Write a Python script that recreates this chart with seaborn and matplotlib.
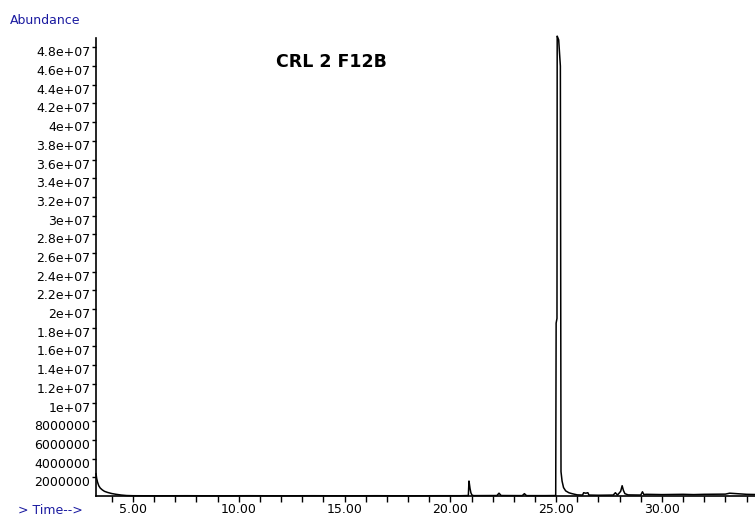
import numpy as np
import pandas as pd
import matplotlib
matplotlib.use("Agg")
import matplotlib.pyplot as plt
import matplotlib.transforms as mtransforms
from matplotlib.ticker import MultipleLocator
import seaborn as sns

tiempo = [3.25, 3.28, 3.32, 3.38, 3.45, 3.55, 3.65, 3.80, 4.00, 4.20, 4.45, 4.70, 5.00,
          6.0, 7.5, 9.0, 10.5, 12.0, 13.5, 15.0, 16.5, 18.0, 19.5, 20.5, 20.85,
          20.88, 20.90, 20.93, 20.97, 21.02, 21.10, 22.20, 22.30, 22.40, 23.40,
          23.50, 23.60, 24.50, 24.98, 25.00, 25.04, 25.05, 25.12, 25.20, 25.23,
          25.28, 25.35, 25.45, 25.60, 25.75, 26.00, 26.25, 26.30, 26.40, 26.50,
          26.55, 27.00, 27.70, 27.80, 27.90, 28.05, 28.12, 28.18, 28.25, 28.40,
          29.00, 29.08, 29.15, 29.25, 30.00, 31.00, 31.50, 32.00, 33.00, 33.20,
          34.00, 34.40]
abundancia = [2.4e6, 1.9e6, 1.5e6, 1.1e6, 0.85e6, 0.65e6, 0.5e6, 0.38e6, 0.26e6, 0.18e6,
              0.1e6, 0.05e6, 0.03e6,
              0.02e6, 0.03e6, 0.02e6, 0.03e6, 0.02e6, 0.03e6, 0.02e6, 0.03e6, 0.02e6,
              0.03e6, 0.03e6, 0.05e6,
              1.6e6, 1.3e6, 0.8e6, 0.35e6, 0.1e6, 0.04e6, 0.05e6, 0.3e6, 0.05e6, 0.04e6,
              0.25e6, 0.04e6, 0.04e6, 0.05e6, 18.5e6, 19.0e6, 49.2e6, 48.8e6, 46e6, 2.6e6,
              1.6e6, 0.9e6, 0.55e6, 0.35e6, 0.25e6, 0.12e6, 0.1e6, 0.35e6, 0.3e6, 0.35e6,
              0.1e6, 0.08e6, 0.1e6, 0.35e6, 0.1e6, 0.5e6, 1.1e6, 0.6e6, 0.25e6, 0.12e6,
              0.1e6, 0.45e6, 0.15e6, 0.18e6, 0.15e6, 0.18e6, 0.15e6, 0.18e6, 0.2e6, 0.3e6,
              0.18e6, 0.16e6]

yticks = [2e6 * i for i in range(1, 25)]
ytick_labels = [str(int(v)) if v < 1e7 else f"{v:g}" for v in yticks]
xticks = [5, 10, 15, 20, 25, 30]
xtick_labels = ["5.00", "10.00", "15.00", "20.00", "25.00", "30.00"]

df = pd.DataFrame({"tiempo": tiempo, "abundancia": abundancia})

# ---------- gráfico ----------
sns.set_style("white")
plt.rcParams['font.family'] = ['DejaVu Sans']
plt.rcParams['text.color'] = 'black'
plt.rcParams['xtick.color'] = 'black'
plt.rcParams['ytick.color'] = 'black'
fig = plt.figure(figsize=(7.55, 5.17), dpi=100)
ax = fig.add_axes([96 / 755, 1 - 496 / 517, 1 - 96 / 755, (496 - 38) / 517])

sns.lineplot(data=df, x="tiempo", y="abundancia", ax=ax, color="black", linewidth=1.1,
             estimator=None, sort=False)
for l in ax.get_lines():
    l.set_clip_on(False)

ax.set_xlim(3.25, 34.4)
ax.set_ylim(0, 4.9e7)
ax.set_xlabel("")
ax.set_ylabel("")

ax.set_xticks(xticks)
ax.set_xticklabels(xtick_labels, fontsize=9)
ax.xaxis.set_minor_locator(MultipleLocator(1))
ax.set_yticks(yticks)
ax.set_yticklabels(ytick_labels, fontsize=9)
ax.tick_params(axis="x", which="both", direction="out", length=4, width=1, pad=1,
               bottom=True, color="black", labelcolor="black")
ax.tick_params(axis="y", direction="out", length=3, width=1, pad=1, left=True,
               color="black", labelcolor="black")

# etiquetas del eje y un poco por debajo de la marca
offset = mtransforms.ScaledTranslation(0, -4 / 100, fig.dpi_scale_trans)
for lbl in ax.get_yticklabels():
    lbl.set_transform(lbl.get_transform() + offset)

for s in ["top", "right"]:
    ax.spines[s].set_visible(False)
for s in ["left", "bottom"]:
    ax.spines[s].set_color("black")
    ax.spines[s].set_linewidth(1.2)

fig.text(331 / 755, 1 - 62 / 517, "CRL 2 F12B", ha="center", va="center",
         fontsize=12.5, fontweight="bold", color="black")
fig.text(10 / 755, 1 - 20 / 517, "Abundance", ha="left", va="center",
         fontsize=9, color="#1a1aa0")
fig.text(18 / 755, 1 - 510 / 517, "> Time-->", ha="left", va="center",
         fontsize=9, color="#1a1aa0")

fig.savefig("out.png", dpi=100)
